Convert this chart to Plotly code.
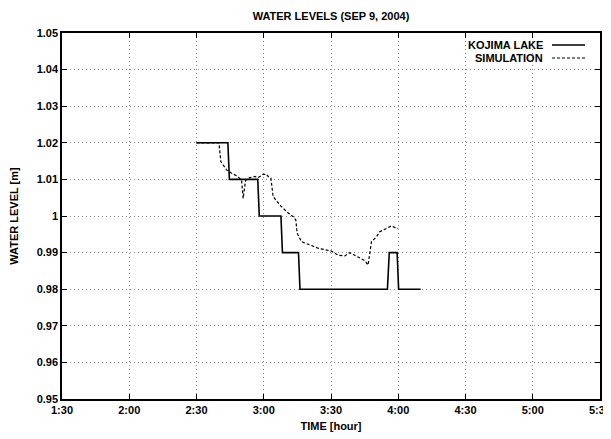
import plotly.graph_objects as go

DAY = "2004-09-09 "

# Observed water level (Kojima Lake)
lake_time = ["02:30:00", "02:44:00", "02:44:40", "02:57:20", "02:58:00", "03:07:40",
             "03:08:20", "03:15:30", "03:16:10", "03:55:10", "03:56:00", "03:59:30",
             "04:00:10", "04:10:00"]
lake_level = [1.020, 1.020, 1.010, 1.010, 1.000, 1.000,
              0.990, 0.990, 0.980, 0.980, 0.990, 0.990,
              0.980, 0.980]

# Simulated water level
sim_time = ["02:30:00", "02:40:00", "02:40:53", "02:43:25", "02:45:39", "02:47:53",
            "02:50:07", "02:50:49", "02:51:53", "02:53:48", "02:56:02", "02:57:30",
            "02:59:44", "03:01:15", "03:01:58", "03:03:10", "03:04:11", "03:07:11",
            "03:10:10", "03:13:07", "03:14:19", "03:14:53", "03:16:51", "03:20:33",
            "03:24:15", "03:28:00", "03:30:13", "03:33:10", "03:36:09", "03:38:23",
            "03:40:37", "03:42:50", "03:45:04", "03:46:32", "03:47:18", "03:48:04",
            "03:50:17", "03:51:46", "03:54:44", "03:56:58", "03:58:26", "03:59:55"]
sim_level = [1.0200, 1.0200, 1.0148, 1.0126, 1.0117, 1.0110,
             1.0098, 1.0048, 1.0097, 1.0105, 1.0108, 1.0105,
             1.0114, 1.0114, 1.0108, 1.0104, 1.0053, 1.0030,
             1.0012, 0.9998, 0.9989, 0.9953, 0.9930, 0.9921,
             0.9912, 0.9907, 0.9904, 0.9893, 0.9891, 0.9900,
             0.9893, 0.9887, 0.9878, 0.9866, 0.9907, 0.9930,
             0.9943, 0.9957, 0.9966, 0.9973, 0.9969, 0.9966]

y_ticks = [0.95, 0.96, 0.97, 0.98, 0.99, 1.00, 1.01, 1.02, 1.03, 1.04, 1.05]
y_tick_labels = ["0.95", "0.96", "0.97", "0.98", "0.99", "1", "1.01", "1.02",
                 "1.03", "1.04", "1.05"]

FONT = "Liberation Sans, Arial, sans-serif"
# page body has an 8px margin; figure size/margins are set so the plot frame
# lands at x 62..600, y 33..399 of the 611x439 window
W, H = 603, 431
L, R, T, B = 54, 11, 25, 40
PW, PH = W - L - R, H - T - B

fig = go.Figure()
fig.add_trace(go.Scatter(
    x=[DAY + t for t in lake_time], y=lake_level, mode="lines",
    name="KOJIMA LAKE", line=dict(color="black", width=1.6), showlegend=False))
fig.add_trace(go.Scatter(
    x=[DAY + t for t in sim_time], y=sim_level, mode="lines",
    name="SIMULATION", line=dict(color="black", width=1.2, dash="3px,2px"),
    showlegend=False))

legend_rows = [("KOJIMA LAKE", "solid", 1.6, 12), ("SIMULATION", "3px,2px", 1.2, 25)]
for label, dash, w, ypix in legend_rows:
    yp = 1 - ypix / PH
    fig.add_annotation(text="<b>" + label + "</b>", xref="paper", yref="paper",
                       x=483 / PW, y=yp,
                       xanchor="right", yanchor="middle", showarrow=False,
                       font=dict(family=FONT, size=11, color="black"))
    fig.add_shape(type="line", xref="paper", yref="paper",
                  x0=490 / PW, x1=523 / PW, y0=yp, y1=yp,
                  line=dict(color="black", width=w, dash=dash))

fig.update_layout(
    width=W, height=H,
    margin=dict(l=L, r=R, t=T, b=B, autoexpand=False),
    paper_bgcolor="white", plot_bgcolor="white",
    font=dict(family=FONT, size=11, color="black"),
    title=dict(text="<b>WATER LEVELS (SEP 9, 2004)</b>", x=(L + PW / 2) / W, xanchor="center",
               y=1 - 8 / H, yanchor="middle", font=dict(family=FONT, size=11, color="black")),
    showlegend=False,
)
fig.update_xaxes(
    type="date", automargin=False,
    range=[DAY + "01:30:00", DAY + "05:30:00"],
    tick0=DAY + "01:30:00", dtick=30 * 60 * 1000,
    tickformat="<b>%-H:%M</b>",
    ticklabeloverflow="allow",
    ticks="inside", ticklen=5, tickcolor="black", tickwidth=1,
    showline=True, linecolor="black", linewidth=1.5, mirror="allticks",
    showgrid=True, gridcolor="#8c8c8c", griddash="1px,3px", gridwidth=1,
    zeroline=False,
    title=dict(text="<b>TIME [hour]</b>", font=dict(family=FONT, size=11), standoff=7),
    tickfont=dict(family=FONT, size=11),
)
fig.update_yaxes(
    automargin=False,
    range=[0.95, 1.05],
    tickvals=y_ticks, ticktext=["<b>" + s + "</b>" for s in y_tick_labels],
    ticks="inside", ticklen=5, tickcolor="black", tickwidth=1,
    showline=True, linecolor="black", linewidth=1.5, mirror="allticks",
    showgrid=True, gridcolor="#8c8c8c", griddash="1px,3px", gridwidth=1,
    zeroline=False,
    title=dict(text="<b>WATER LEVEL [m]</b>", font=dict(family=FONT, size=11), standoff=18),
    tickfont=dict(family=FONT, size=11),
)

fig.write_html("out.html")
